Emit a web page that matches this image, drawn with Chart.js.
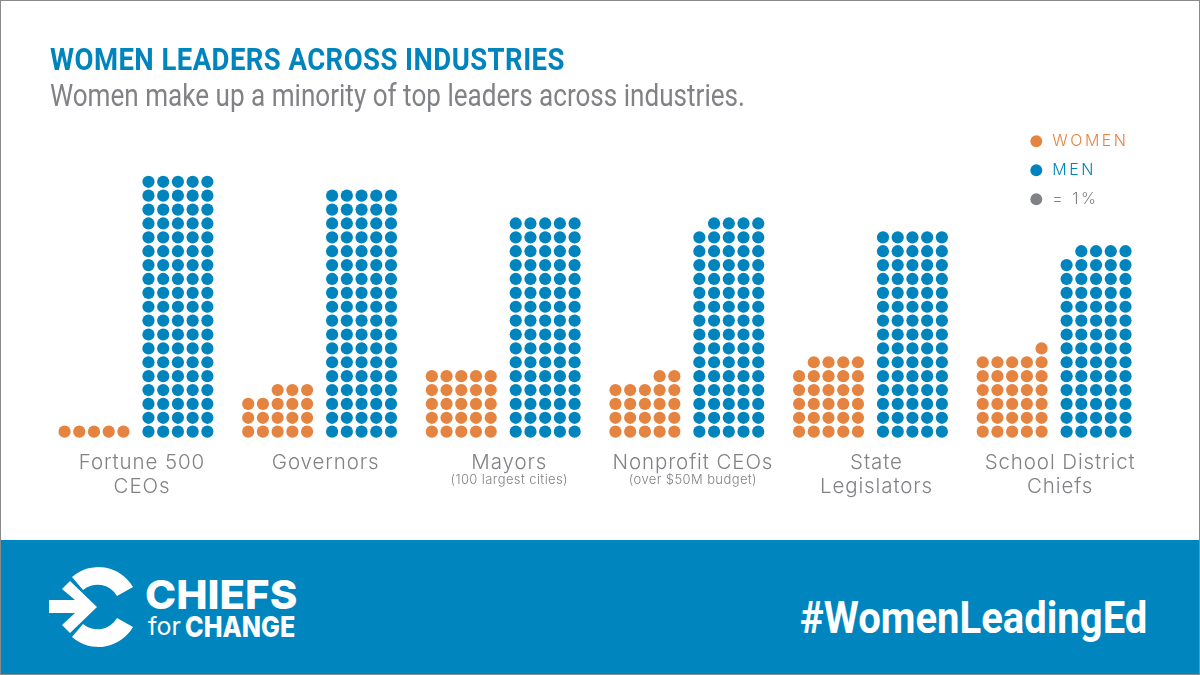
<!DOCTYPE html>
<html><head><meta charset="utf-8">
<style>
html,body{margin:0;padding:0;background:#fff;overflow:hidden}
#wrap{position:relative;width:1200px;height:675px;overflow:hidden;background:#fff}
canvas{position:absolute;left:0;top:0}
.t{position:absolute;white-space:nowrap;transform-origin:0 0;line-height:1}
#title{left:50px;top:40px;font:700 32px Roboto;color:#0084BD;letter-spacing:.5px}
#sub{left:50px;top:77px;font:400 31px Roboto;color:#808285}
#banner{position:absolute;left:0;top:540px;width:1200px;height:135px;background:#0085BF}
#frame{position:absolute;left:0;top:0;width:1198px;height:673px;border:1px solid #8a8a8a;pointer-events:none}
#hash{left:800px;top:591px;font:700 45px Roboto;color:#fff}
#chiefs{left:145px;top:570px;font:800 40px Inter;color:#fff}
#for{left:148px;top:611px;font:400 25px Inter;color:#fff}
#change{left:185px;top:609px;font:800 29px Inter;color:#fff}
svg{position:absolute;left:0;top:0}
</style></head><body>
<div id="wrap">
<canvas id="c" width="1200" height="675"></canvas>
<div id="title" class="t" data-w="515">WOMEN LEADERS ACROSS INDUSTRIES</div>
<div id="sub" class="t" data-w="695">Women make up a minority of top leaders across industries.</div>
<div id="banner"></div>
<svg width="1200" height="675">
<path fill="#fff" d="M72 577A40 40 0 0 1 133 587L117 596A22.5 22.5 0 0 0 83 590Z"/>
<path fill="#fff" d="M72 637A40 40 0 0 0 133 627L117 618A22.5 22.5 0 0 1 83 624Z"/>
<path fill="#fff" d="M49 600H75L62 589L70 581L97 607L70 633L62 625L75 613H49Z"/>
</svg>
<div id="chiefs" class="t" data-w="152">CHIEFS</div>
<div id="for" class="t" data-w="33">for</div>
<div id="change" class="t" data-w="110">CHANGE</div>
<div id="hash" class="t" data-w="347">#WomenLeadingEd</div>
<div id="frame"></div>
</div>
<script src="https://cdn.jsdelivr.net/npm/chart.js@4/dist/chart.umd.min.js"></script>
<script>
const categories = [["Fortune 500","CEOs"],"Governors","Mayors","Nonprofit CEOs",["State","Legislators"],["School District","Chiefs"]];
const subLabels = ["","","(100 largest cities)","(over $50M budget)","",""];
const women = [5,18,25,22,29,31];
const men = [95,90,80,79,75,69];
const legendLabels = ["WOMEN","MEN","= 1%"];

const ORANGE="#E58340", BLUE="#0084BD", GRAY="#808285";
const PER_ROW=5, GROUP=12.475, MEN_OFFSET=5.7, LABEL_CENTER=2.0+5.7/2+0.41;

function dots(counts, offset){
  const out=[];
  counts.forEach((n,g)=>{
    for(let k=0;k<n;k++){
      out.push({x:g*GROUP+offset+(PER_ROW-1-k%PER_ROW), y:Math.floor(k/PER_ROW)});
    }
  });
  return out;
}
document.querySelectorAll('.t[data-w]').forEach(el=>{
  el.style.transform='scaleX('+(+el.dataset.w/el.offsetWidth)+')';
});
const legendColors=[ORANGE,BLUE,GRAY];
const TICK_SPACING='0.9px';
const placement={
  id:'placement',
  afterLayout(chart){
    const l=chart.legend;
    l.left=1015.3; l.right=1200; l.top=120.3; l.bottom=320;
    if(!l._spaced){
      l._spaced=true;
      const orig=l._draw;
      l._draw=function(){chart.ctx.letterSpacing='2.5px';orig.call(this);chart.ctx.letterSpacing=TICK_SPACING;};
    }
  },
  beforeDraw(chart){chart.ctx.letterSpacing=TICK_SPACING;},
  afterDraw(chart){
    const ctx=chart.ctx,xs=chart.scales.x;
    ctx.save();
    ctx.letterSpacing='0.4px';
    ctx.font='300 13px Inter';
    ctx.fillStyle=GRAY;ctx.textAlign='center';ctx.textBaseline='middle';
    subLabels.forEach((s,i)=>{ if(s) ctx.fillText(s,xs.getPixelForValue(i*GROUP+LABEL_CENTER),480); });
    ctx.restore();
  }
};
new Chart(document.getElementById('c'),{
  type:'scatter',
  data:{datasets:[
    {label:legendLabels[0],data:dots(women,0),backgroundColor:ORANGE},
    {label:legendLabels[1],data:dots(men,MEN_OFFSET),backgroundColor:BLUE},
    {label:legendLabels[2],data:[],backgroundColor:GRAY}
  ]},
  plugins:[placement],
  options:{
    responsive:false,animation:false,events:[],
    layout:{padding:{left:50,right:50,top:175,bottom:130}},
    elements:{point:{radius:6.1,borderWidth:0,hoverRadius:6.1}},
    scales:{
      x:{type:'linear',min:-0.99,max:73.74,
        grid:{display:false,drawTicks:false},border:{display:false},
        afterFit(s){s.height=100;},
        afterBuildTicks(s){s.ticks=categories.map((c,i)=>({value:i*GROUP+LABEL_CENTER}));},
        ticks:{autoSkip:false,maxRotation:0,padding:6,color:GRAY,
          font:{family:'Inter',size:20.5,weight:300,lineHeight:1.17},
          callback:(v,i)=>categories[i]}
      },
      y:{type:'linear',min:-0.96,max:18.49,display:false}
    },
    plugins:{
      tooltip:{enabled:false},
      title:{display:false},
      legend:{position:'chartArea',align:'start',
        labels:{usePointStyle:true,pointStyle:'circle',boxWidth:16,boxHeight:8.4,padding:13,
          font:{family:'Inter',size:16,weight:300,lineHeight:1},
          generateLabels:()=>legendLabels.map((t,i)=>({text:t,fillStyle:legendColors[i],strokeStyle:legendColors[i],lineWidth:0,fontColor:legendColors[i],pointStyle:'circle',datasetIndex:i}))
        }
      }
    }
  }
});
</script>
</body></html>
